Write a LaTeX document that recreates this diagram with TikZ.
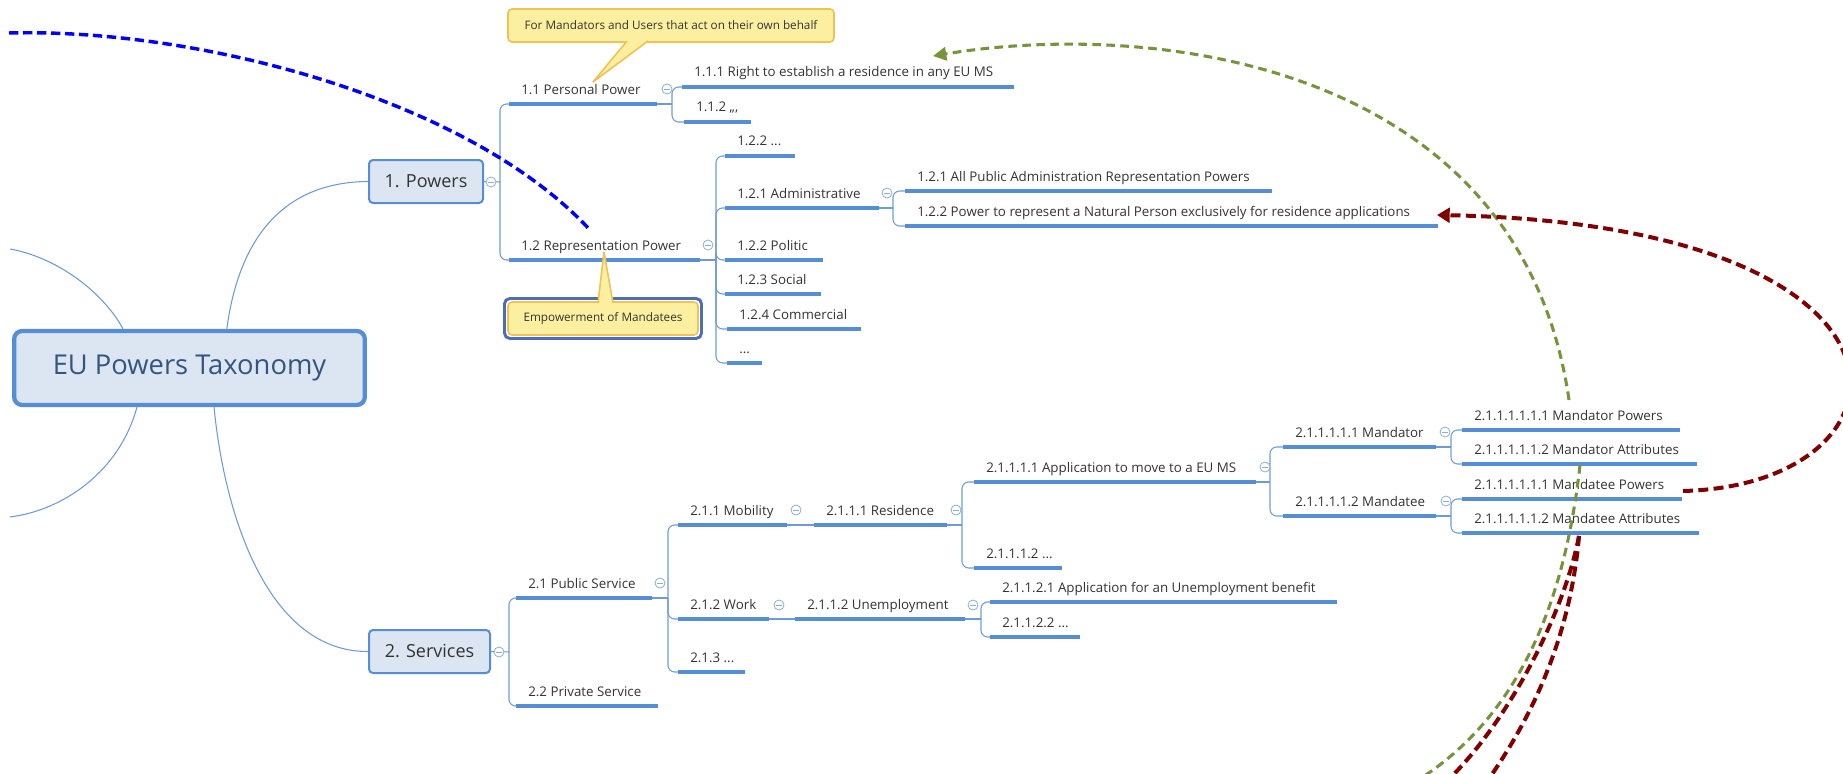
\documentclass[tikz,border=0pt]{standalone}
\usepackage{fontspec}
\setmainfont{Open Sans}
\usetikzlibrary{arrows.meta}
\definecolor{ul}{HTML}{558ED5}
\definecolor{cn}{HTML}{6E9BD6}
\definecolor{bx}{HTML}{DCE6F2}
\definecolor{ic}{HTML}{8DADD9}
\definecolor{tx}{HTML}{333333}
\definecolor{ttl}{HTML}{35557F}
\definecolor{cy}{HTML}{FCF0A0}
\definecolor{cb}{HTML}{F0C256}
\definecolor{sel}{HTML}{4A6EB8}
\definecolor{relb}{HTML}{0000FF}
\definecolor{relg}{HTML}{77933C}
\definecolor{relr}{HTML}{800000}
\newcommand\tpc[5]{%
  \coordinate (#1s) at (#2,#4);
  \coordinate (#1e) at (#3,#4);
  \draw[uline] (#1s) -- (#1e);
  \node[lbl] (#1) at ({#2+12},{#4-10}) {#5};}
\newcommand\icn[3]{\node[icon] (#1) at (#2,#3) {};}
\begin{document}
\begin{tikzpicture}[x=0.75pt,y=-0.75pt,
  uline/.style={draw=ul,line width=2.5pt},
  conn/.style={draw=cn,line width=0.8pt},
  rc/.style={conn,rounded corners=5pt},
  lbl/.style={font=\fontsize{10}{12}\selectfont,text=tx,inner sep=0,anchor=base west},
  icon/.style={circle,draw=ic,fill=white,line width=0.6pt,minimum size=7.5pt,inner sep=0,
    path picture={\draw[ic,line width=0.6pt] ([xshift=-2pt]path picture bounding box.center)--([xshift=2pt]path picture bounding box.center);}},
  central/.style={draw=ul,fill=bx,line width=3.2pt,rounded corners=6pt,minimum width=263pt,minimum height=55.5pt,inner sep=0,
    font=\fontsize{20.5}{24}\selectfont,text=ttl},
  mainbox/.style={draw=ul,fill=bx,line width=1.5pt,rounded corners=3pt,minimum height=32.25pt,inner sep=0,
    font=\fontsize{13.5}{16}\selectfont,text=tx},
  callout/.style={draw=cb,fill=cy,line width=1.2pt,rounded corners=3pt,minimum height=24.75pt,inner sep=0,
    font=\fontsize{8.8}{10}\selectfont,text=tx},
  relblue/.style={draw=relb,line width=2.6pt,dash pattern=on 7pt off 3.5pt},
  relgreen/.style={draw=relg,line width=2.3pt,dash pattern=on 6.5pt off 4pt},
  relred/.style={draw=relr,line width=3pt,dash pattern=on 7.5pt off 4pt}]
\useasboundingbox (0,0) rectangle (1843,774);
\clip (0,0) rectangle (1843,774);
% main nodes
\node[central] (root) at (189.5,368) {EU Powers Taxonomy};
\node[mainbox,minimum width=85.5pt] (pw) at (426,181.5) {1. Powers};
\node[mainbox,minimum width=90.75pt] (sv) at (429.5,651.5) {2. Services};
% left arcs
\coordinate (la) at (10,249);
\coordinate (lb) at (10,517);
\draw[conn] (la) .. controls (60,258) and (105,295) .. ([xshift=-49.9pt]root.north);
\draw[conn] ([xshift=-39.4pt]root.south) .. controls (120,470) and (65,510) .. (lb);
\draw[conn] ([xshift=28pt]root.north) .. controls (240,230) and (290,182) .. (pw.west);
\draw[conn] ([xshift=18.4pt]root.south) .. controls (225,520) and (270,652) .. (sv.west);
% topics: powers
\tpc{a1}{509}{657}{104}{1.1 Personal Power}
\tpc{a2}{509}{700}{260}{1.2 Representation Power}
\tpc{a11}{682}{1014}{87}{1.1.1 Right to establish a residence in any EU MS}
\tpc{a12}{684}{751}{122}{1.1.2 ,,,}
\tpc{a22x}{725}{795}{156}{1.2.2 ...}
\tpc{a21}{725}{879}{208}{1.2.1 Administrative}
\tpc{a22}{725}{823}{260}{1.2.2 Politic}
\tpc{a23}{725}{821}{294}{1.2.3 Social}
\tpc{a24}{727}{861}{329}{1.2.4 Commercial}
\tpc{a25}{727}{762}{363}{...}
\tpc{a211}{905}{1272}{191}{1.2.1 All Public Administration Representation Powers}
\tpc{a212}{905}{1438}{226}{1.2.2 Power to represent a Natural Person exclusively for residence applications}
% topics: services
\tpc{b1}{516}{652}{598}{2.1 Public Service}
\tpc{b2}{516}{658}{706}{2.2 Private Service}
\tpc{b11}{678}{787}{525}{2.1.1 Mobility}
\tpc{b12}{678}{769}{619}{2.1.2 Work}
\tpc{b13}{678}{745}{672}{2.1.3 ...}
\tpc{b111}{814}{947}{525}{2.1.1.1 Residence}
\tpc{b1111}{974}{1256}{482}{2.1.1.1.1 Application to move to a EU MS}
\tpc{b1112}{974}{1062}{568}{2.1.1.1.2 ...}
\tpc{m1}{1283}{1436}{447}{2.1.1.1.1.1 Mandator}
\tpc{m2}{1283}{1436}{516}{2.1.1.1.1.2 Mandatee}
\tpc{m11}{1462}{1680}{430}{2.1.1.1.1.1.1 Mandator Powers}
\tpc{m12}{1462}{1697}{464}{2.1.1.1.1.1.2 Mandator Attributes}
\tpc{m21}{1462}{1682}{499}{2.1.1.1.1.1.1 Mandatee Powers}
\tpc{m22}{1462}{1699}{533}{2.1.1.1.1.1.2 Mandatee Attributes}
\tpc{u1}{795}{965}{619}{2.1.1.2 Unemployment}
\tpc{u11}{990}{1337}{602}{2.1.1.2.1 Application for an Unemployment benefit}
\tpc{u12}{990}{1080}{637}{2.1.1.2.2 ...}
% junctions and branches
\coordinate (jP) at (500,182);
\draw[conn] (pw.east) -- (jP);
\draw[rc] (jP) |- (a1s); \draw[rc] (jP) |- (a2s);
\coordinate (j1) at (672,104);
\draw[conn] (a1e) -- (j1);
\draw[rc] (j1) |- (a11s); \draw[rc] (j1) |- (a12s);
\coordinate (j2) at (716,260);
\draw[conn] (a2e) -- (j2);
\foreach \c in {a22x,a21,a22,a23,a24,a25} {\draw[rc] (j2) |- (\c s);}
\coordinate (j21) at (893,208);
\draw[conn] (a21e) -- (j21);
\draw[rc] (j21) |- (a211s); \draw[rc] (j21) |- (a212s);
\coordinate (jS) at (509,652);
\draw[conn] (sv.east) -- (jS);
\draw[rc] (jS) |- (b1s); \draw[rc] (jS) |- (b2s);
\coordinate (jb1) at (668,598);
\draw[conn] (b1e) -- (jb1);
\foreach \c in {b11,b12,b13} {\draw[rc] (jb1) |- (\c s);}
\draw[conn] (b11e) -- (b111s);
\coordinate (jr) at (962,525);
\draw[conn] (b111e) -- (jr);
\draw[rc] (jr) |- (b1111s); \draw[rc] (jr) |- (b1112s);
\coordinate (ja) at (1270,482);
\draw[conn] (b1111e) -- (ja);
\draw[rc] (ja) |- (m1s); \draw[rc] (ja) |- (m2s);
\coordinate (jm1) at (1451,447);
\draw[conn] (m1e) -- (jm1);
\draw[rc] (jm1) |- (m11s); \draw[rc] (jm1) |- (m12s);
\coordinate (jm2) at (1451,516);
\draw[conn] (m2e) -- (jm2);
\draw[rc] (jm2) |- (m21s); \draw[rc] (jm2) |- (m22s);
\draw[conn] (b12e) -- (u1s);
\coordinate (ju) at (981,619);
\draw[conn] (u1e) -- (ju);
\draw[rc] (ju) |- (u11s); \draw[rc] (ju) |- (u12s);
% icons
\icn{iP}{491}{182}
\icn{iS}{499}{652}
\icn{i1}{667}{89}
\icn{i2}{708}{245}
\icn{i21}{887}{193}
\icn{ib1}{660}{583}
\icn{ib11}{796}{510}
\icn{ib111}{956}{510}
\icn{ia}{1265}{467}
\icn{im1}{1445}{432}
\icn{im2}{1446}{501}
\icn{ib12}{779}{605}
\icn{iu}{973}{605}
% callout 1
\node[callout,minimum width=244.5pt] (c1) at (671,25.5) {For Mandators and Users that act on their own behalf};
\coordinate (c1t) at (593,82);
\path[draw=cb,fill=cy,line width=1.2pt,line join=round] (627,41) -- (c1t) -- (648,41);
% callout 2 (selected)
\node[draw=sel,line width=2.2pt,rounded corners=4pt,minimum width=147.75pt,minimum height=30pt,inner sep=0] (c2f) at (603,318.5) {};
\node[callout,minimum width=142.5pt] (c2) at (603,318.5) {Empowerment of Mandatees};
\coordinate (c2t) at (604,252);
\path[draw=cb,fill=cy,line width=1.2pt,line join=round] (598,303) -- (c2t) -- (613,303);
% relationships
\coordinate (bl0) at (9,33);
\coordinate (bl1) at (590,230);
\draw[relblue] (bl0) .. controls (200,28) and (470,100) .. (bl1);
\coordinate (g0) at (1569,400);
\coordinate (g1) at (933,56);
\draw[relgreen,-{Triangle[length=10pt,width=10pt]}] (g0) .. controls (1520,60) and (1150,20) .. (g1);
\coordinate (g2) at (1580,465);
\coordinate (g3) at (1410,785);
\draw[relgreen] (g2) .. controls (1565,600) and (1520,720) .. (g3);
\coordinate (r0) at (1683,491);
\coordinate (r1) at (1437,215);
\draw[relred,-{Triangle[length=9.5pt,width=11pt]}] (r0) .. controls (1925,485) and (1950,225) .. (r1);
\coordinate (r2) at (1579,536);
\coordinate (r3) at (1448,780);
\coordinate (r4) at (1488,780);
\draw[relred] (r2) .. controls (1565,610) and (1510,720) .. (r3);
\draw[relred] (r2) .. controls (1570,640) and (1530,720) .. (r4);
\end{tikzpicture}
\end{document}
